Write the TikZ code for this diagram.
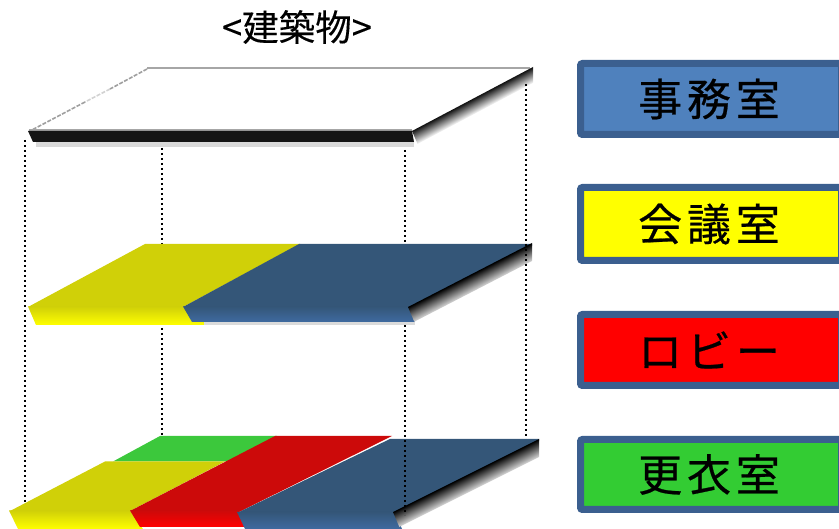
\documentclass[tikz,border=0pt]{standalone}
\usepackage{fontspec}
\setmainfont{Liberation Sans}
\newfontfamily\jpfont[LetterSpace=11,FakeBold=0.5]{Noto Sans CJK JP}
\newfontfamily\jptitle[FakeBold=0.2]{Noto Sans CJK JP}
\definecolor{edgeblue}{HTML}{3B5F8F}
\definecolor{officeblue}{HTML}{4F81BD}
\definecolor{planblue}{HTML}{345678}
\definecolor{frontblue}{HTML}{3F6AA0}
\definecolor{planyellow}{HTML}{D0D008}
\definecolor{planred}{HTML}{CC0A0A}
\definecolor{plangreen}{HTML}{3CC83C}
\definecolor{keygreen}{HTML}{33CC33}
\definecolor{keyyellow}{HTML}{FFFF00}
\definecolor{keyred}{HTML}{FF0000}
\definecolor{barblack}{HTML}{141414}
\definecolor{bargray}{HTML}{181818}
\definecolor{softgray}{HTML}{D8D8D8}
\definecolor{navy}{HTML}{14202F}
\tikzset{
  legendbox/.style={draw=edgeblue,line width=7pt,rounded corners=2pt,inner sep=0pt,
    minimum width=261pt,text=black,font=\jpfont\fontsize{44}{44}\selectfont,
    execute at end node=\kern4pt},
  guide/.style={line width=2pt,black,dash pattern=on 2pt off 3pt},
}
% side band: sheared shading along the slanted edge, colours c1 -> c2 -> c3
\newcommand{\sideband}[8]{%
  \pgfmathsetmacro{\bandslope}{(#2-#4)/(#3-#1)}%
  \pgfmathsetmacro{\bandtop}{#2+\bandslope*#1}%
  \pgfmathsetmacro{\bandbot}{\bandtop+#5}%
  \pgfmathsetmacro{\bandskew}{#1+#5*0.35}%
  \begin{scope}[transform canvas={cm={1,\bandslope,0,1,(0,0)}}]
    \shade[top color=#6,middle color=#7,bottom color=#8]
      (#1,\bandtop) -- (#3,\bandtop) -- (#3,\bandbot) -- (\bandskew,\bandbot) -- cycle;
  \end{scope}%
}
\begin{document}
\begin{tikzpicture}[x=1pt,y=-1pt]
\useasboundingbox (0,0) rectangle (839,529);
\clip (0,0) rectangle (839,529);
\coordinate (ga1) at (25,140); \coordinate (ga2) at (25,505);
\coordinate (gb1) at (162,148); \coordinate (gb2) at (162,439);
\coordinate (gc1) at (405,145); \coordinate (gc2) at (405,515);
\coordinate (gd1) at (526,84); \coordinate (gd2) at (526,441);
% guides hidden behind the floors
\draw[guide] (ga1) -- (ga2);
\draw[guide] (gb1) -- (gb2);
\draw[guide] (gc1) -- (gc2);
% top floor
\fill[white] (147,68) -- (530,68) -- (412,130) -- (30,130) -- cycle;
\draw[gray!70,line width=2.6pt] (147,68) -- (530,68);
\draw[gray!75,line width=1.6pt,dash pattern=on 4pt off 1.5pt] (147,69) -- (110,89);
\draw[gray!35,line width=1.6pt,dash pattern=on 4pt off 1.5pt] (110,89) -- (85,102);
\draw[gray!75,line width=1.6pt,dash pattern=on 4pt off 1.5pt] (85,102) -- (30,131);
\fill[gray!30] (36,142) -- (414,142) -- (414,147) -- (36,147) -- cycle;
\fill[gray!70] (29,129) -- (412,129) -- (412,131) -- (29,131) -- cycle;
\fill[barblack] (28,131) -- (412,131) -- (414,142) -- (33,142) -- cycle;
\sideband{412}{131}{533}{67}{16}{barblack}{bargray}{white}
% middle floor
\fill[planyellow] (145,244) -- (300,244) -- (183,307) -- (28,307) -- cycle;
\shade[top color=planyellow,bottom color=keyyellow] (28,306.5) -- (192,306.5) -- (208,325) -- (36,325) -- cycle;
\fill[gray!28] (204,322) -- (415,322) -- (415,325) -- (204,325) -- cycle;
\fill[planblue] (299,244) -- (532,244) -- (532,246) -- (410,309) -- (408,307) -- (183,307) -- cycle;
\shade[top color=planblue,bottom color=frontblue] (183,306.5) -- (410,306.5) -- (415,322) -- (192,322) -- cycle;
\sideband{408}{307}{532}{243}{18}{black}{navy}{softgray}
% guide over the middle floor's right side
\draw[guide] (gd1) -- (gd2);
% bottom floor
\fill[plangreen] (160,436) -- (277,436) -- (228,461.5) -- (113,461.5) -- cycle;
\fill[planyellow] (105,461.5) -- (225,461.5) -- (130,511) -- (10,511) -- cycle;
\shade[top color=planyellow,bottom color=keyyellow] (9,510.5) -- (130,510.5) -- (143,529) -- (18,529) -- cycle;
\fill[planred] (275,436) -- (392,436) -- (237,513) -- (130,511) -- cycle;
\shade[top color=planred,bottom color=keyred] (130,510.5) -- (237,510.5) -- (245,527) -- (140,527) -- cycle;
\fill[planblue] (390,439) -- (539,439) -- (539,441) -- (395,514) -- (393,512) -- (237,513) -- cycle;
\shade[top color=planblue,bottom color=frontblue] (237,512) -- (395,512) -- (402,529) -- (245,529) -- cycle;
\sideband{393}{512}{539}{439}{18}{black}{navy}{softgray}
% guide over the bottom floor
\coordinate (gc3) at (405,440);
\draw[guide] (gc3) -- (gc2);
% title and key
\node[font=\jptitle\fontsize{36.5}{36.5}\selectfont] (title) at (297,27) {<建築物>};
\node[legendbox,fill=officeblue,minimum height=71pt] (office) at (711,99) {事務室};
\node[legendbox,fill=keyyellow,minimum height=73pt] (meeting) at (711,224) {会議室};
\node[legendbox,fill=keyred,minimum height=71pt] (lobby) at (711,350) {ロビー};
\node[legendbox,fill=keygreen,minimum height=70pt] (locker) at (711,474.5) {更衣室};
\end{tikzpicture}
\end{document}
